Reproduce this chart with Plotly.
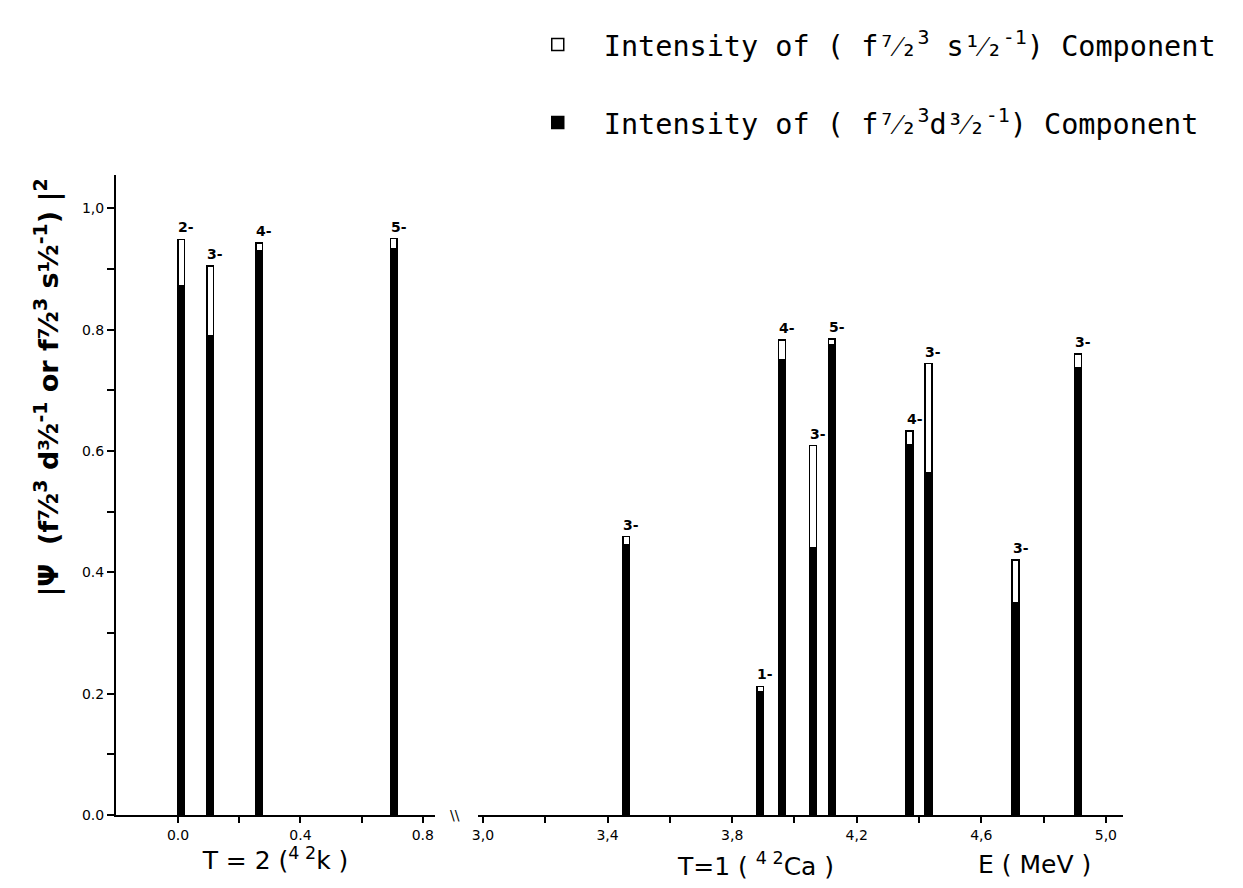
import plotly.graph_objects as go

# 42K (T=2) levels
k_energy = [0.01, 0.105, 0.265, 0.705]
k_spin = ["2-", "3-", "4-", "5-"]
k_d = [0.873, 0.79, 0.93, 0.933]
k_s = [0.076, 0.115, 0.013, 0.017]

# 42Ca (T=1) levels
ca_energy = [3.46, 3.89, 3.96, 4.06, 4.12, 4.37, 4.43, 4.71, 4.91]
ca_spin = ["3-", "1-", "4-", "3-", "5-", "4-", "3-", "3-", "3-"]
ca_d = [0.445, 0.204, 0.75, 0.44, 0.775, 0.61, 0.565, 0.35, 0.737]
ca_s = [0.014, 0.008, 0.033, 0.169, 0.010, 0.023, 0.179, 0.070, 0.023]

y_ticks = [0.0, 0.2, 0.4, 0.6, 0.8, 1.0]
y_ticktext = ["0.0", "0.2", "0.4", "0.6", "0.8", "1,0"]
k_ticks = [0.0, 0.2, 0.4, 0.6, 0.8]
k_ticktext = ["0.0", "", "0.4", "", "0.8"]
ca_ticks = [3.0, 3.2, 3.4, 3.6, 3.8, 4.0, 4.2, 4.4, 4.6, 4.8, 5.0]
ca_ticktext = ["3,0", "", "3,4", "", "3,8", "", "4,2", "", "4,6", "", "5,0"]

S_NAME = "Intensity of ( f⁷⁄₂<sup>3</sup> s¹⁄₂<sup>-1</sup>) Component"
D_NAME = "Intensity of ( f⁷⁄₂<sup>3</sup>d³⁄₂<sup>-1</sup>) Component"
Y_TITLE = "|Ψ  (f⁷⁄₂<sup>3</sup> d³⁄₂<sup>-1</sup> or f⁷⁄₂<sup>3</sup> s¹⁄₂<sup>-1</sup>) |<sup>2</sup>"

BW = 0.022
line = dict(color="black", width=1.5)

fig = go.Figure()
fig.add_trace(go.Bar(x=k_energy, y=k_d, width=BW, xaxis="x", yaxis="y",
                     marker=dict(color="black", line=line), name=D_NAME,
                     legendgroup="d", legendrank=2))
fig.add_trace(go.Bar(x=k_energy, y=k_s, width=BW, xaxis="x", yaxis="y",
                     marker=dict(color="white", line=line), name=S_NAME,
                     legendgroup="s", legendrank=1))
fig.add_trace(go.Bar(x=ca_energy, y=ca_d, width=BW, xaxis="x2", yaxis="y",
                     marker=dict(color="black", line=line), name=D_NAME,
                     legendgroup="d", showlegend=False))
fig.add_trace(go.Bar(x=ca_energy, y=ca_s, width=BW, xaxis="x2", yaxis="y",
                     marker=dict(color="white", line=line), name=S_NAME,
                     legendgroup="s", showlegend=False))

annotations = []
for xs, ds, ss, js, xr in [(k_energy, k_d, k_s, k_spin, "x"),
                           (ca_energy, ca_d, ca_s, ca_spin, "x2")]:
    for e, d, s, j in zip(xs, ds, ss, js):
        annotations.append(dict(x=e, y=d + s, xref=xr, yref="y", text=j,
                                showarrow=False, yanchor="bottom", xanchor="center",
                                xshift=5, yshift=2,
                                font=dict(family="DejaVu Sans", size=14,
                                          weight="bold", color="black")))

title_font = dict(family="DejaVu Sans", size=25, color="black")
annotations += [
    dict(x=0.6346, y=-0.077, xref="paper", yref="paper", text="T=1 ( <sup>4 2</sup>Ca )",
         showarrow=False, font=title_font, xanchor="center", yanchor="middle"),
    dict(x=0.9126, y=-0.077, xref="paper", yref="paper", text="E ( MeV )",
         showarrow=False, font=title_font, xanchor="center", yanchor="middle"),
    dict(x=0.3366, y=0.0, xref="paper", yref="paper", text="\\\\",
         showarrow=False, font=dict(family="DejaVu Sans", size=14, color="black"),
         xanchor="center", yanchor="middle"),
    dict(x=-0.0685, y=0.668, xref="paper", yref="paper", text=Y_TITLE,
         textangle=-90, showarrow=False, xanchor="center", yanchor="middle",
         font=dict(family="DejaVu Sans", size=27, weight="bold", color="black")),
]

tick_font = dict(family="DejaVu Sans", size=14, color="black")

fig.update_layout(
    width=1235, height=880,
    margin=dict(l=108, r=120, t=160, b=73),
    paper_bgcolor="white", plot_bgcolor="white",
    barmode="stack",
    showlegend=True,
    legend=dict(x=0.393, y=1.243, xanchor="left", yanchor="top",
                font=dict(family="DejaVu Sans Mono", size=28.5, color="black"),
                itemwidth=82, tracegroupgap=38, bgcolor="rgba(0,0,0,0)"),
    annotations=annotations,
    xaxis=dict(domain=[0, 0.3168], range=[-0.203, 0.84], anchor="y",
               showline=True, linecolor="black", linewidth=2,
               showgrid=False, zeroline=False,
               tickvals=k_ticks, ticktext=k_ticktext, ticks="outside",
               ticklen=6, tickwidth=1.5, tickcolor="black", tickfont=tick_font,
               title=dict(text="T = 2 (<sup>4 2</sup>k )", font=title_font, standoff=6)),
    xaxis2=dict(domain=[0.3595, 1.0], range=[2.984, 5.055], anchor="y",
                showline=True, linecolor="black", linewidth=2,
                showgrid=False, zeroline=False,
                tickvals=ca_ticks, ticktext=ca_ticktext, ticks="outside",
                ticklen=6, tickwidth=1.5, tickcolor="black", tickfont=tick_font),
    yaxis=dict(domain=[0, 1], range=[0, 1.055], anchor="x", automargin=False,
               showline=True, linecolor="black", linewidth=2,
               showgrid=False, zeroline=False,
               tickvals=y_ticks, ticktext=y_ticktext, ticks="outside",
               ticklen=7, tickwidth=1.5, tickcolor="black", tickfont=tick_font,
               minor=dict(dtick=0.1, tick0=0, ticks="outside", ticklen=7,
                          tickwidth=1.5, tickcolor="black")),
)

fig.write_html("out.html")
